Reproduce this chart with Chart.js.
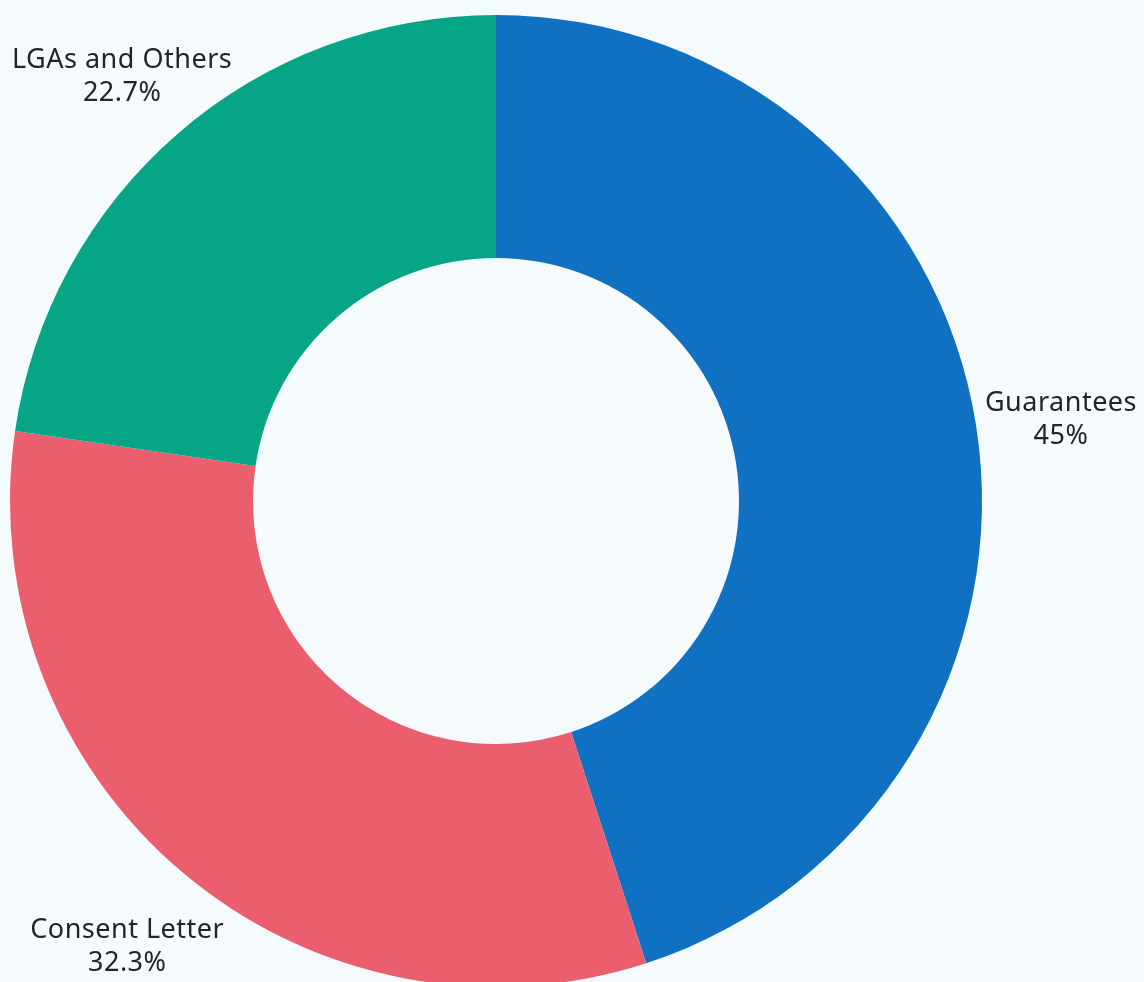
<!DOCTYPE html>
<html lang="en">
<head>
    <meta charset="UTF-8">
    <title>Guarantees breakdown</title>
    <script src="https://cdn.jsdelivr.net/npm/chart.js"></script>
    <style>
        html, body {
            margin: 0;
            padding: 0;
            overflow: hidden;
            background: #f5fbfd;
        }
        #wrap {
            width: 1144px;
            height: 987px;
        }
    </style>
</head>
<body>
    <div id="wrap">
        <canvas id="graficoRosca"></canvas>
    </div>

    <script>
        // dados do gráfico
        const categorias = ['Guarantees', 'Consent Letter', 'LGAs and Others'];
        const percentuais = [45, 32.3, 22.7];
        const cores = ['#1071c2', '#eb5e6e', '#05a586'];

        // rótulos fora da rosca: nome + percentual
        const rotulosExternos = {
            id: 'rotulosExternos',
            afterDatasetsDraw(chart) {
                const ctx = chart.ctx;
                const meta = chart.getDatasetMeta(0);
                ctx.save();
                ctx.font = '27px "Noto Sans", sans-serif';
                ctx.letterSpacing = '0.5px';
                ctx.fillStyle = '#242424';
                ctx.textAlign = 'center';
                ctx.textBaseline = 'middle';
                meta.data.forEach((arc, i) => {
                    const meio = (arc.startAngle + arc.endAngle) / 2;
                    const dist = arc.outerRadius * 1.177;
                    let x = arc.x + Math.cos(meio) * dist;
                    let y = arc.y + Math.sin(meio) * dist + 8;
                    const texto = `${percentuais[i]}%`;
                    const larg = Math.max(ctx.measureText(categorias[i]).width, ctx.measureText(texto).width);
                    // mantém o texto dentro da tela
                    x = Math.min(Math.max(x, larg / 2 + 12), chart.width - larg / 2 - 2);
                    y = Math.min(Math.max(y, 40), 950);
                    ctx.fillText(categorias[i], x, y - 16);
                    ctx.fillText(texto, x, y + 17);
                });
                ctx.restore();
            }
        };

        const config = {
            type: 'doughnut',
            data: {
                labels: categorias,
                datasets: [{
                    data: percentuais,
                    backgroundColor: cores,
                    borderWidth: 0
                }]
            },
            options: {
                responsive: true,
                maintainAspectRatio: false,
                animation: false,
                cutout: '50%',
                layout: {
                    padding: { left: 10, right: 162, top: 15, bottom: 0 }
                },
                plugins: {
                    legend: { display: false },
                    tooltip: { enabled: false }
                }
            },
            plugins: [rotulosExternos]
        };

        new Chart(document.getElementById('graficoRosca'), config);
    </script>
</body>
</html>
